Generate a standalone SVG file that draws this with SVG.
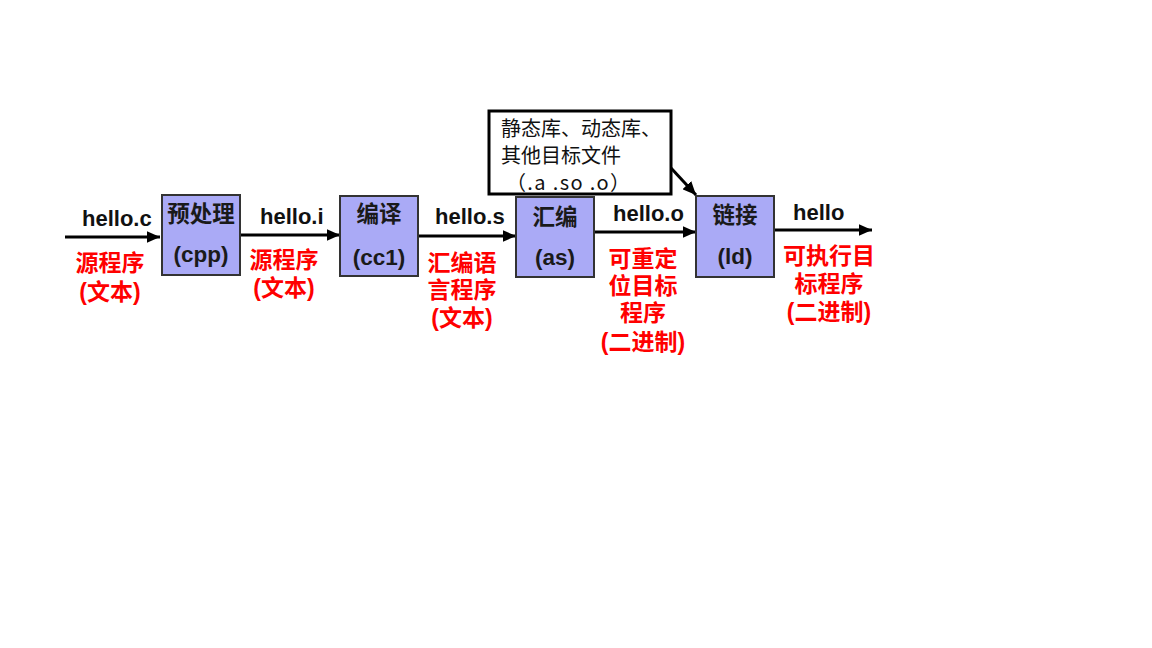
<svg xmlns="http://www.w3.org/2000/svg" width="1152" height="648" viewBox="0 0 1152 648">
<style>
.box{fill:#aaaaf6;stroke:#333;stroke-width:2}
.bt{font-family:"Liberation Sans","Noto Sans CJK SC",sans-serif;font-weight:bold;font-size:22.5px;fill:#1a1a1a;text-anchor:middle}
.lbl{font-family:"Liberation Sans","Noto Sans CJK SC",sans-serif;font-weight:bold;font-size:22px;fill:#111}
.red{font-family:"Liberation Sans","Noto Sans CJK SC",sans-serif;font-weight:bold;font-size:23px;fill:#ff0000;text-anchor:middle}
.note{font-family:"Noto Sans CJK SC",sans-serif;font-size:20px;fill:#111}
.ln{stroke:#000;stroke-width:3;fill:none}
</style>
<defs>
<marker id="ah" viewBox="0 0 10 10" refX="10" refY="5" markerWidth="4.5" markerHeight="4" markerUnits="strokeWidth" orient="auto" preserveAspectRatio="none">
<path d="M0,0 L10,5 L0,10 z" fill="#000"/>
</marker>
</defs>
<rect width="1152" height="648" fill="#fff"/>
<g id="connectors">
<line class="ln" x1="65" y1="237" x2="160" y2="237" marker-end="url(#ah)"/>
<line class="ln" x1="240" y1="235" x2="340" y2="235" marker-end="url(#ah)"/>
<line class="ln" x1="418" y1="236" x2="516" y2="236" marker-end="url(#ah)"/>
<line class="ln" x1="594" y1="232" x2="696" y2="232" marker-end="url(#ah)"/>
<line class="ln" x1="774" y1="230" x2="872" y2="230" marker-end="url(#ah)"/>
<line class="ln" x1="671" y1="168" x2="696" y2="195" marker-end="url(#ah)"/>
</g>
<g id="n-cpp">
<rect class="box" x="162" y="195" width="78" height="80"/>
<text class="bt" x="201" y="222">预处理</text>
<text class="bt" x="201" y="262">(cpp)</text>
</g>
<g id="n-cc1">
<rect class="box" x="340" y="196" width="78" height="80"/>
<text class="bt" x="379" y="222">编译</text>
<text class="bt" x="379" y="265">(cc1)</text>
</g>
<g id="n-as">
<rect class="box" x="516" y="197" width="78" height="80"/>
<text class="bt" x="555" y="225">汇编</text>
<text class="bt" x="555" y="265">(as)</text>
</g>
<g id="n-ld">
<rect class="box" x="696" y="196" width="78" height="81"/>
<text class="bt" x="735" y="223">链接</text>
<text class="bt" x="735" y="264">(ld)</text>
</g>
<g id="n-libs">
<rect x="489" y="111" width="182" height="83" fill="#fff" stroke="#000" stroke-width="3"/>
<text class="note" x="501" y="136">静态库、动态库、</text>
<text class="note" x="501" y="163">其他目标文件</text>
<text class="note" x="506" y="190" textLength="124" lengthAdjust="spacing">（.a .so .o）</text>
</g>
<g id="labels">
<text class="lbl" x="82" y="226">hello.c</text>
<text class="red" x="110" y="271">源程序</text>
<text class="red" x="110" y="300">(文本)</text>
<text class="lbl" x="260" y="224">hello.i</text>
<text class="red" x="284" y="268">源程序</text>
<text class="red" x="284" y="296">(文本)</text>
<text class="lbl" x="435" y="224">hello.s</text>
<text class="red" x="462" y="271">汇编语</text>
<text class="red" x="462" y="298">言程序</text>
<text class="red" x="462" y="326">(文本)</text>
<text class="lbl" x="613" y="221">hello.o</text>
<text class="red" x="643" y="267">可重定</text>
<text class="red" x="643" y="294">位目标</text>
<text class="red" x="643" y="321">程序</text>
<text class="red" x="643" y="350">(二进制)</text>
<text class="lbl" x="793" y="220">hello</text>
<text class="red" x="829" y="264">可执行目</text>
<text class="red" x="829" y="292">标程序</text>
<text class="red" x="829" y="320">(二进制)</text>
</g>
</svg>
